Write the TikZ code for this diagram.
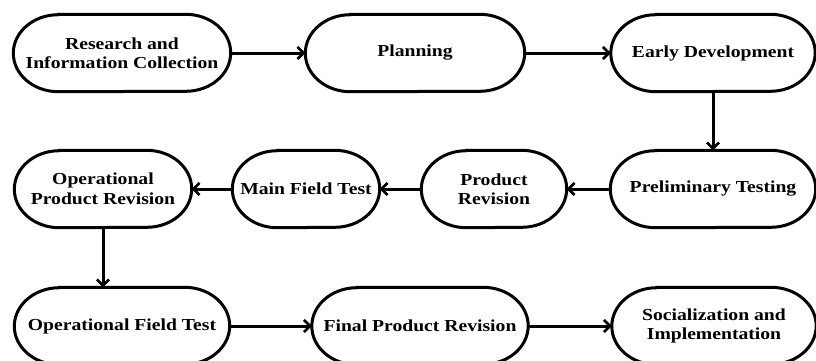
\documentclass[tikz,border=0pt]{standalone}
\usepackage{fontspec}
\setmainfont{Liberation Serif}[FakeStretch=1.17]
\usetikzlibrary{arrows.meta,calc}
\tikzset{
  stage/.style={rectangle, minimum height=77pt, inner sep=0pt, align=center,
    font=\fontsize{16.8}{19.5}\selectfont\bfseries},
  border/.style={draw=black, line width=3pt},
  flow/.style={line width=3pt, -{Straight Barb[length=6pt,width=12pt,line width=2.6pt]}}
}
\newcommand\stadium[1]{%
  \draw[border] ($(#1.north west)+(45pt,0)$) -- ($(#1.north east)+(-45pt,0)$)
    arc[start angle=90,end angle=-90,x radius=45pt,y radius=38.5pt]
    -- ($(#1.south west)+(45pt,0)$)
    arc[start angle=270,end angle=90,x radius=45pt,y radius=38.5pt] -- cycle;}
\begin{document}
\begin{tikzpicture}[x=1pt,y=-1pt]
\useasboundingbox (0,0) rectangle (816,360);
\node[stage, minimum width=217pt] (research) at (122,53) {Research and\\Information Collection};
\node[stage, minimum width=219pt] (planning) at (415,53) {Planning};
\node[stage, minimum width=204pt] (early) at (713,53) {Early Development};
\node[stage, minimum width=205pt] (prelim) at (713,189) {Preliminary Testing};
\node[stage, minimum width=145pt] (prodrev) at (494,189) {Product\\Revision};
\node[stage, minimum width=147pt] (mainfield) at (306,189) {Main Field Test};
\node[stage, minimum width=177pt] (opprodrev) at (103,189) {Operational\\Product Revision};
\node[stage, minimum width=215pt] (opfield) at (122,326) {Operational Field Test};
\node[stage, minimum width=216pt] (finalrev) at (420,326) {Final Product Revision};
\node[stage, minimum width=204pt] (social) at (714,326) {Socialization and\\Implementation};
\foreach \n in {research,planning,early,prelim,prodrev,mainfield,opprodrev,opfield,finalrev,social}
  {\stadium{\n}}
\draw[flow] (research) -- (planning);
\draw[flow] (planning) -- (early);
\draw[flow] (early) -- (prelim);
\draw[flow] (prelim) -- (prodrev);
\draw[flow] (prodrev) -- (mainfield);
\draw[flow] (mainfield) -- (opprodrev);
\draw[flow] (opprodrev.south) -- (opprodrev.south |- opfield.north);
\draw[flow] (opfield) -- (finalrev);
\draw[flow] (finalrev) -- (social);
\end{tikzpicture}
\end{document}
